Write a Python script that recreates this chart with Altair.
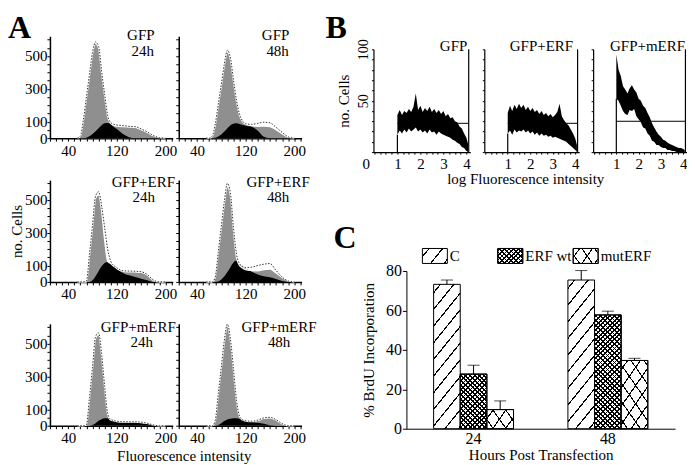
import math
import altair as alt
import pandas as pd

FONT = "Liberation Serif"

# ---------------- Panel A : DNA-content histograms ----------------
fl_x = [55, 60, 65, 70, 75, 80, 85, 90, 95, 100, 105, 110, 115, 120, 130, 140, 150, 160, 170, 180, 190, 200]

gfp24_total = [0, 10, 108, 245, 380, 515, 578, 550, 400, 260, 130, 90, 78, 73, 70, 68, 66, 52, 35, 15, 3, 0]
gfp24_s = [0, 0, 0, 3, 12, 25, 42, 60, 78, 90, 92, 85, 68, 55, 25, 6, 0, 0, 0, 0, 0, 0]
gfp24_raw = [0, 12, 112, 250, 388, 522, 586, 558, 408, 266, 136, 95, 84, 80, 76, 72, 70, 56, 38, 16, 3, 0]

gfp48_total = [0, 0, 10, 80, 200, 320, 445, 525, 480, 350, 225, 140, 100, 85, 77, 72, 74, 70, 52, 28, 6, 0]
gfp48_s = [0, 0, 0, 3, 10, 22, 40, 60, 78, 88, 90, 86, 80, 76, 70, 45, 8, 0, 0, 0, 0, 0]
gfp48_raw = [0, 0, 12, 85, 206, 328, 452, 535, 488, 356, 230, 146, 104, 88, 84, 90, 97, 93, 66, 35, 8, 0]

erf24_total = [0, 0, 0, 0, 160, 335, 510, 530, 435, 255, 125, 112, 96, 82, 64, 62, 61, 58, 42, 10, 0, 0]
erf24_s = [0, 0, 0, 0, 0, 10, 35, 65, 95, 115, 122, 110, 95, 80, 55, 40, 30, 20, 10, 0, 0, 0]
erf24_raw = [0, 0, 0, 5, 168, 345, 522, 549, 462, 330, 200, 125, 100, 86, 68, 66, 65, 62, 45, 12, 0, 0]

erf48_total = [0, 0, 0, 30, 180, 330, 480, 580, 528, 320, 150, 100, 85, 75, 70, 68, 75, 78, 55, 28, 6, 0]
erf48_s = [0, 0, 0, 0, 3, 15, 35, 60, 90, 118, 130, 105, 90, 80, 62, 45, 35, 28, 18, 5, 0, 0]
erf48_raw = [0, 0, 0, 30, 180, 340, 490, 600, 540, 330, 170, 110, 95, 88, 90, 100, 108, 112, 70, 30, 6, 0]

merf24_total = [0, 0, 0, 5, 165, 350, 532, 555, 430, 235, 70, 35, 30, 25, 22, 22, 22, 20, 14, 5, 0, 0]
merf24_s = [0, 0, 0, 0, 0, 5, 15, 30, 40, 45, 45, 35, 28, 24, 20, 20, 20, 18, 12, 3, 0, 0]
merf24_raw = [0, 0, 0, 6, 170, 356, 542, 565, 438, 240, 74, 38, 32, 27, 24, 24, 24, 22, 15, 5, 0, 0]

merf48_total = [0, 0, 0, 30, 190, 350, 510, 610, 520, 340, 150, 55, 35, 28, 25, 32, 45, 48, 35, 12, 0, 0]
merf48_s = [0, 0, 0, 0, 5, 15, 28, 38, 42, 45, 45, 42, 35, 30, 22, 18, 12, 3, 0, 0, 0, 0]
merf48_raw = [0, 0, 0, 32, 195, 356, 520, 618, 528, 346, 155, 58, 37, 30, 27, 34, 48, 51, 37, 13, 0, 0]

a_names = ["GFP", "GFP", "GFP+ERF", "GFP+ERF", "GFP+mERF", "GFP+mERF"]
a_times = ["24h", "48h", "24h", "48h", "24h", "48h"]
a_x_labels = [40, 120, 200]
a_y_labels = [0, 100, 300, 500]

# ---------------- Panel B : log fluorescence histograms ----------------
b_x = [1.0, 1.1, 1.2, 1.3, 1.4, 1.5, 1.6, 1.7, 1.8, 1.9, 2.0, 2.1, 2.2, 2.3, 2.4, 2.5,
       2.6, 2.7, 2.8, 2.9, 3.0, 3.1, 3.2, 3.3, 3.4, 3.5, 3.6, 3.7, 3.8, 3.9, 4.0, 4.07]
b_gfp_lo = [17, 21, 18, 22, 19, 23, 20, 22, 24, 20, 22, 19, 21, 18, 22, 19, 20, 17, 20, 18, 17, 16, 15, 14, 12, 11, 9, 8, 5, 4, 1, 0]
b_gfp_hi = [36, 41, 36, 40, 38, 42, 39, 44, 57, 41, 45, 39, 43, 40, 44, 39, 42, 38, 41, 37, 40, 35, 37, 33, 34, 30, 29, 25, 23, 18, 14, 8]
b_erf_lo = [18, 21, 17, 22, 19, 21, 20, 22, 19, 21, 18, 20, 17, 19, 16, 18, 16, 17, 15, 16, 14, 15, 14, 13, 12, 11, 10, 8, 6, 4, 2, 0]
b_erf_hi = [38, 45, 40, 46, 42, 47, 43, 46, 41, 44, 40, 43, 39, 41, 37, 40, 36, 38, 35, 37, 34, 36, 39, 47, 35, 31, 28, 26, 22, 18, 13, 7]
b_merf_lo = [52, 50, 45, 40, 37, 36, 41, 40, 42, 35, 32, 29, 24, 23, 18, 16, 11, 10, 7, 7, 5, 4, 4, 2, 2, 1, 1, 0, 0, 0, 0, 0]
b_merf_hi = [95, 80, 74, 64, 61, 57, 62, 65, 61, 58, 52, 50, 45, 43, 38, 34, 28, 24, 20, 17, 15, 12, 11, 9, 8, 7, 6, 5, 4, 4, 3, 2]
b_names = ["GFP", "GFP+ERF", "GFP+mERF"]
b_gate = [1.0, 4.1]
b_gate_level = [28, 28, 30]

# ---------------- Panel C : BrdU incorporation ----------------
c_hours = ["24", "48"]
c_series = ["C", "ERF wt", "mutERF"]
c_24 = [73.2, 27.7, 9.7]
c_48 = [75.4, 57.7, 34.6]
c_err_24 = [2.2, 4.5, 4.4]
c_err_48 = [4.8, 1.9, 1.1]

panel_letters = ["A", "B", "C"]

CLEAR = "rgba(0,0,0,0)"


def hatch(w, h, angle, spacing, lw, bg):
    """Linear gradient with hard stops that paints parallel hatch lines."""
    a = math.radians(angle)
    nx, ny = math.sin(a), math.cos(a)
    x1 = 0.0 if nx >= 0 else 1.0
    y1 = 0.0 if ny >= 0 else 1.0
    span = w * abs(nx) + h * abs(ny)
    k = span / ((w * nx) ** 2 + (h * ny) ** 2)
    x2 = x1 + k * w * nx
    y2 = y1 + k * h * ny
    p = spacing / span
    q = lw / span
    stops = [{"offset": 0, "color": bg}]
    i = 0
    while True:
        a0 = (i + 0.5) * p - q / 2
        if a0 >= 1:
            break
        a1 = min(a0 + q, 1.0)
        a0 = max(a0, 0.0)
        stops += [{"offset": round(a0, 5), "color": bg},
                  {"offset": round(a0, 5), "color": "black"},
                  {"offset": round(a1, 5), "color": "black"},
                  {"offset": round(a1, 5), "color": bg}]
        i += 1
    stops.append({"offset": 1, "color": bg})
    return {"gradient": "linear", "x1": round(x1, 5), "y1": round(y1, 5),
            "x2": round(x2, 5), "y2": round(y2, 5), "stops": stops}


def letter(text, dx, dy):
    df = pd.DataFrame({"letter": [text]})
    return alt.Chart(df).mark_text(align="left", baseline="alphabetic", fontSize=32,
                                   fontWeight="bold", font=FONT, color="black").encode(
        x=alt.value(dx), y=alt.value(dy), text="letter:N")


def label(text, px, py, align):
    df = pd.DataFrame({"t": [text]})
    return alt.Chart(df).mark_text(align=align, baseline="alphabetic", fontSize=15,
                                   font=FONT, color="black").encode(
        x=alt.value(px), y=alt.value(py), text="t:N")


def spacer(w, h):
    df = pd.DataFrame({"v": [0]})
    return alt.Chart(df).mark_point(opacity=0, size=1).encode(
        x=alt.value(0), y=alt.value(0)).properties(width=w, height=h)


def top_margin_anchor(py):
    # invisible point that fixes how much room is kept above the top row
    df = pd.DataFrame({"v": [0]})
    return alt.Chart(df).mark_point(opacity=0, size=1, strokeWidth=0).encode(
        x=alt.value(0), y=alt.value(py))


# ======================= Panel A =======================
A_W, A_H = 123, 102
a_xscale = alt.Scale(domain=[10, 212], nice=False, zero=False)
a_yscale = alt.Scale(domain=[0, 620], nice=False)
a_total = [gfp24_total, gfp48_total, erf24_total, erf48_total, merf24_total, merf48_total]
a_sph = [gfp24_s, gfp48_s, erf24_s, erf48_s, merf24_s, merf48_s]
a_raw = [gfp24_raw, gfp48_raw, erf24_raw, erf48_raw, merf24_raw, merf48_raw]
# label placement per panel: (name x, name align, time x, name baseline, time baseline)
a_label_pos = [
    (A_W - 32, "center", A_W - 30, 4, 20), (A_W - 26, "center", A_W - 24, 4, 20),
    (A_W - 29.5, "center", A_W - 29, 7, 22), (A_W - 23.5, "center", A_W - 23.5, 7, 22),
    (A_W + 3, "right", A_W - 31, 8, 23), (A_W + 15, "right", A_W - 22.5, 8, 23),
]


def a_panel(k):
    left = k % 2 == 0
    df = pd.DataFrame({"fl": fl_x, "total": a_total[k], "s": a_sph[k], "raw": a_raw[k]})
    xaxis = alt.Axis(values=list(range(10, 211, 10)),
                     labelExpr="indexof(%s, datum.value) >= 0 ? '' + datum.value : ''" % a_x_labels,
                     tickSize=3, labelPadding=2, labelOverlap=False, labelFlush=False,
                     domainWidth=1.5, labelFontSize=15,
                     title="Fluorescence intensity" if k == 4 else None,
                     titleX=134, titlePadding=3)
    yaxis = alt.Axis(values=list(range(0, 601, 50)), labels=left,
                     labelExpr="indexof(%s, datum.value) >= 0 ? '' + datum.value : ''" % a_y_labels,
                     tickSize=3, labelPadding=0, labelOverlap=False, labelFlush=False,
                     domainWidth=1.5, labelFontSize=15,
                     title="no. Cells" if k == 2 else None, titlePadding=0)
    x = alt.X("fl:Q", scale=a_xscale, axis=xaxis)

    def y(f):
        return alt.Y(f + ":Q", scale=a_yscale, axis=yaxis)

    base = alt.Chart(df)
    layers = [
        base.mark_area(color="#8f8f8f", opacity=1, interpolate="monotone").encode(x=x, y=y("total")),
        base.mark_area(color="black", opacity=1, interpolate="monotone").encode(x=x, y=y("s")),
        base.mark_line(color="white", strokeWidth=1.4, interpolate="monotone").encode(x=x, y=y("total")),
        base.mark_line(color="black", strokeWidth=0.8, strokeDash=[1.5, 1.5],
                       interpolate="monotone").encode(x=x, y=y("raw")),
    ]
    nx, nal, tx, ny, ty = a_label_pos[k]
    layers.append(label(a_names[k], nx, ny, nal))
    layers.append(label(a_times[k], tx, ty, "center"))
    if k == 0:
        layers.append(letter(panel_letters[0], -42, 1.5))
        layers.append(top_margin_anchor(-27))
    return alt.layer(*layers).properties(width=A_W, height=A_H)


a_grid = alt.concat(*[a_panel(k) for k in range(6)], columns=2,
                    spacing={"row": 42, "column": 6}, bounds="flush")

# ======================= Panel B =======================
B_W = [97, 95, 94]
B_H = 103
b_xscale = alt.Scale(domain=[-0.04, 4.17], nice=False, zero=False)
b_yscale = alt.Scale(domain=[0, 100], nice=False)
b_lo = [b_gfp_lo, b_erf_lo, b_merf_lo]
b_hi = [b_gfp_hi, b_erf_hi, b_merf_hi]


def b_panel(j):
    first = j == 0
    df = pd.DataFrame({"lf": b_x, "lo": b_lo[j], "hi": b_hi[j]})
    xaxis = alt.Axis(values=[i / 4 for i in range(17)],
                     labelExpr="datum.value %% 1 == 0 && datum.value >= %d ? '' + datum.value : ''" % (0 if first else 1),
                     labelAlign={"condition": {"test": "datum.value === 0", "value": "right"}, "value": "center"},
                     labelOffset={"condition": {"test": "datum.value === 0", "value": -5}, "value": 0},
                     tickSize=2, labelPadding=2, labelOverlap=False, labelFlush=False,
                     domainWidth=1.2, labelFontSize=15,
                     title="log Fluorescence intensity" if j == 1 else None,
                     titleX=41, titlePadding=0)
    yaxis = alt.Axis(values=list(range(0, 101, 10)), labels=first,
                     labelExpr="datum.value == 50 || datum.value == 100 ? '' + datum.value : ''",
                     labelAngle=270, labelFontSize=14, tickSize=2, labelPadding=1,
                     labelOverlap=False, labelFlush=False, domainWidth=1.2,
                     title="no. Cells" if first else None, titlePadding=5)
    x = alt.X("lf:Q", scale=b_xscale, axis=xaxis)
    band = alt.Chart(df).mark_area(color="black", opacity=1, interpolate="linear").encode(
        x=x, y=alt.Y("hi:Q", scale=b_yscale, axis=yaxis), y2="lo:Q")
    gate_df = pd.DataFrame({"g0": [b_gate[0]], "g1": [b_gate[1]],
                            "lvl": [b_gate_level[j]], "edge": [b_lo[j][0]]})
    gate = alt.Chart(gate_df)
    hline = gate.mark_rule(color="black", strokeWidth=1).encode(
        x=alt.X("g0:Q", scale=b_xscale, axis=xaxis), x2="g1:Q",
        y=alt.Y("lvl:Q", scale=b_yscale, axis=yaxis))
    rline = gate.mark_rule(color="black", strokeWidth=1.2).encode(
        x=alt.X("g1:Q", scale=b_xscale, axis=xaxis))
    lline = gate.transform_calculate(zero="0").mark_rule(color="black", strokeWidth=1.2).encode(
        x=alt.X("g0:Q", scale=b_xscale, axis=xaxis),
        y=alt.Y("zero:Q", scale=b_yscale, axis=yaxis), y2="edge:Q")
    layers = [band, hline, rline, lline,
              label(b_names[j], B_W[j] + [-3, -6, -2][j], 2, "right")]
    if first:
        layers.append(letter(panel_letters[1], -48, -11.5))
    return alt.layer(*layers).properties(width=B_W[j], height=B_H)


b_row = alt.hconcat(*[b_panel(j) for j in range(3)], spacing=14, bounds="flush")

# ======================= Panel C =======================
C_W, C_H = 269, 158
PAD_IN, PAD_OUT = 0.405, 0.2025
c_xscale = alt.Scale(domain=c_hours, paddingInner=PAD_IN, paddingOuter=PAD_OUT)
c_yscale = alt.Scale(domain=[0, 80], nice=False)
c_xaxis = alt.Axis(title="Hours Post Transfection", labelAngle=0, ticks=False, tickSize=0,
                   labelPadding=2, titlePadding=1, labelFontSize=16, domainWidth=1)
c_yaxis = alt.Axis(values=[0, 20, 40, 60, 80], title="% BrdU Incorporation", tickSize=4,
                   labelPadding=1, titlePadding=9, labelFontSize=16, domainWidth=1)
bar_w = C_W / (len(c_hours) - PAD_IN + 2 * PAD_OUT) * (1 - PAD_IN) / len(c_series)
c_patterns = {
    "C": [(51, 10.5, 1.2)],
    "ERF wt": [(45, 3.3, 1.3), (135, 3.3, 1.3)],
    "mutERF": [(55, 10.5, 1.1), (125, 10.5, 1.1)],
}

c_df = pd.DataFrame({
    "hour": [h for h in c_hours for _ in c_series],
    "series": c_series * len(c_hours),
    "value": c_24 + c_48,
    "err": c_err_24 + c_err_48,
})
cx = alt.X("hour:N", scale=c_xscale, axis=c_xaxis)
cxo = alt.XOffset("series:N", scale=alt.Scale(domain=c_series))
cy = alt.Y("value:Q", scale=c_yscale, axis=c_yaxis)

c_layers = []
for h, vals in zip(c_hours, [c_24, c_48]):
    for s, v in zip(c_series, vals):
        hpx = v / 80 * C_H
        for i, (ang, sp, lw) in enumerate(c_patterns[s]):
            c_layers.append(
                alt.Chart(c_df)
                .transform_filter(f"datum.hour == '{h}' && datum.series == '{s}'")
                .mark_bar(fill=hatch(bar_w, hpx, ang, sp, lw, "white" if i == 0 else CLEAR),
                          stroke="black", strokeWidth=1)
                .encode(x=cx, xOffset=cxo, y=cy))
err_base = alt.Chart(c_df).transform_calculate(top="datum.value + datum.err")
c_layers.append(err_base.mark_rule(color="black", strokeWidth=1).encode(
    x=cx, xOffset=cxo, y=cy, y2="top:Q"))
c_layers.append(err_base.mark_tick(color="black", thickness=1, size=12).encode(
    x=cx, xOffset=cxo, y=alt.Y("top:Q", scale=c_yscale, axis=c_yaxis)))

# legend row of patterned swatches (drawn just above the plot area)
leg_df = pd.DataFrame({"label": c_series, "slot": list(range(len(c_series)))})
lx = alt.X("slot:Q", scale=alt.Scale(domain=[-0.3775, 3.185], nice=False, zero=False), axis=None)
RECT = "M -1 -0.6 L 1 -0.6 L 1 0.6 L -1 0.6 Z"
LEG_Y = -15
leg_layers = []
for s in c_series:
    for i, (ang, sp, lw) in enumerate(c_patterns[s]):
        leg_layers.append(
            alt.Chart(leg_df).transform_filter(f"datum.label == '{s}'")
            .mark_point(shape=RECT, size=625, filled=True, opacity=1,
                        fill=hatch(25, 15, ang, sp, lw, "white" if i == 0 else CLEAR),
                        stroke="black", strokeWidth=1)
            .encode(x=lx, y=alt.value(LEG_Y)))
leg_layers.append(
    alt.Chart(leg_df).mark_text(align="left", baseline="middle", dx=15, fontSize=15,
                                font=FONT, color="black")
    .encode(x=lx, y=alt.value(LEG_Y), text="label:N"))
leg_layers.append(letter(panel_letters[2], -73, -23))

cplot = alt.layer(alt.layer(*c_layers), alt.layer(*leg_layers)).resolve_scale(
    x="independent").properties(width=C_W, height=C_H)

# C sits 33 px to the right of the B row and below it
c_wrap = alt.hconcat(spacer(33, 1), cplot, spacing=0, bounds="flush")
bc_block = alt.vconcat(b_row, c_wrap, spacing=36)
right_block = alt.vconcat(spacer(1, 13), bc_block, spacing=0, bounds="flush")

chart = (
    alt.hconcat(a_grid, right_block, spacing=9)
    .properties(padding={"left": 0, "top": 0, "right": 0, "bottom": 0})
    .configure(font=FONT)
    .configure_view(stroke=None)
    .configure_axis(labelFont=FONT, titleFont=FONT, labelColor="black", titleColor="black",
                    domainColor="black", tickColor="black", labelFontSize=15, titleFontSize=15,
                    titleFontWeight="normal", grid=False)
)

chart.save("out.html", embed_options={"renderer": "svg", "actions": False})
